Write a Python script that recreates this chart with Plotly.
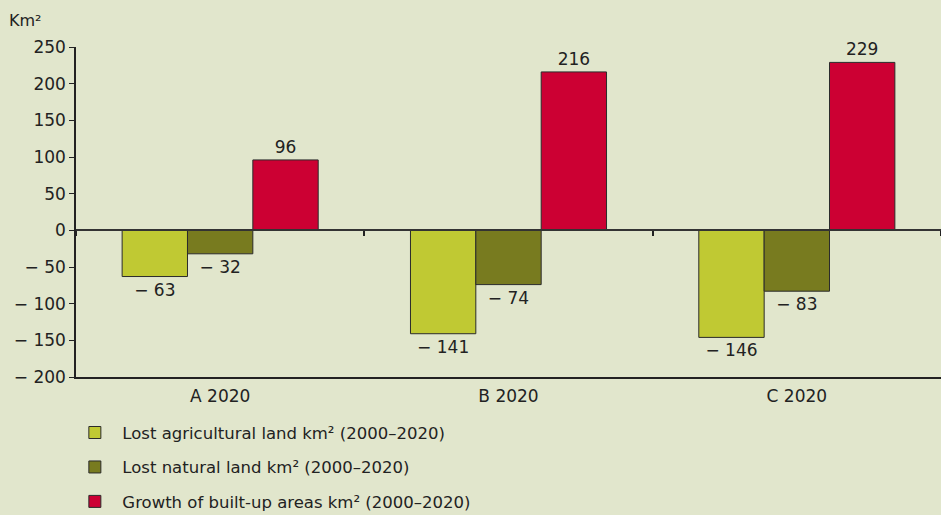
import plotly.graph_objects as go

# Land-use change per scenario, km² (2000–2020)
categories = ["A 2020", "B 2020", "C 2020"]
lost_agricultural = [-63, -141, -146]
lost_natural = [-32, -74, -83]
built_up_growth = [96, 216, 229]

series_names = [
    "Lost agricultural land km² (2000–2020)",
    "Lost natural land km² (2000–2020)",
    "Growth of built-up areas km² (2000–2020)",
]
series_colors = ["#C0C933", "#787B1F", "#CC0033"]
y_ticks = [-200, -150, -100, -50, 0, 50, 100, 150, 200, 250]

FONT = "DejaVu Sans"
TEXT = "#222222"
BG = "#E1E6CC"


def fmt(v):
    # negative numbers use a spaced minus sign, e.g. "− 63"
    return f"− {abs(v)}" if v < 0 else f"{v}"


fig = go.Figure()
for i, (name, vals, col) in enumerate(
    zip(series_names, [lost_agricultural, lost_natural, built_up_growth], series_colors)
):
    fig.add_trace(
        go.Bar(
            name=name,
            x=categories,
            y=vals,
            marker=dict(color=col, line=dict(color="#2b2b2b", width=1)),
            text=[fmt(v) for v in vals],
            textposition="outside",
            textfont=dict(family=FONT, size=17, color=TEXT),
            cliponaxis=False,
            legendgroup=f"g{i}",
        )
    )

# invisible helper trace for the category axis drawn through zero
fig.add_trace(
    go.Scatter(x=categories, y=[0, 0, 0], xaxis="x2", mode="markers",
               marker=dict(opacity=0), showlegend=False, hoverinfo="skip")
)

y_min, y_max = -200, 250
zero_pos = (0 - y_min) / (y_max - y_min)

fig.update_layout(
    width=941,
    height=515,
    margin=dict(l=76, r=0, t=47, b=138, autoexpand=False),
    paper_bgcolor=BG,
    plot_bgcolor=BG,
    barmode="group",
    bargap=0.32,
    bargroupgap=0,
    font=dict(family=FONT, size=16, color=TEXT),
    showlegend=True,
    legend=dict(
        x=-0.01, y=-0.116, xanchor="left", yanchor="top",
        orientation="v",
        font=dict(family=FONT, size=16.5, color=TEXT),
        tracegroupgap=10,
        itemwidth=45,
        bgcolor="rgba(0,0,0,0)",
    ),
    xaxis=dict(
        showline=True, linecolor="#222222", linewidth=1.5,
        ticks="", showgrid=False, zeroline=False,
        tickfont=dict(family=FONT, size=17, color=TEXT),
        ticklabelstandoff=3,
    ),
    xaxis2=dict(
        overlaying="x", anchor="free", position=zero_pos,
        matches="x", showline=True, linecolor="#333333", linewidth=1.5,
        ticks="outside", ticklen=5, tickcolor="#222222", tickwidth=1.5,
        tickson="boundaries", showticklabels=False, showgrid=False, zeroline=False,
    ),
    yaxis=dict(
        range=[y_min, y_max],
        tickvals=y_ticks,
        ticktext=[fmt(v) for v in y_ticks],
        showline=True, linecolor="#222222", linewidth=1.5,
        ticks="outside", ticklen=5, tickcolor="#222222",
        showgrid=False, zeroline=False,
        tickfont=dict(family=FONT, size=17, color=TEXT),
    ),
    annotations=[
        dict(text="Km²", xref="paper", yref="paper", x=-0.08, y=1.045,
             xanchor="left", yanchor="bottom", showarrow=False,
             font=dict(family=FONT, size=16, color=TEXT))
    ],
)

fig.write_html("out.html")
